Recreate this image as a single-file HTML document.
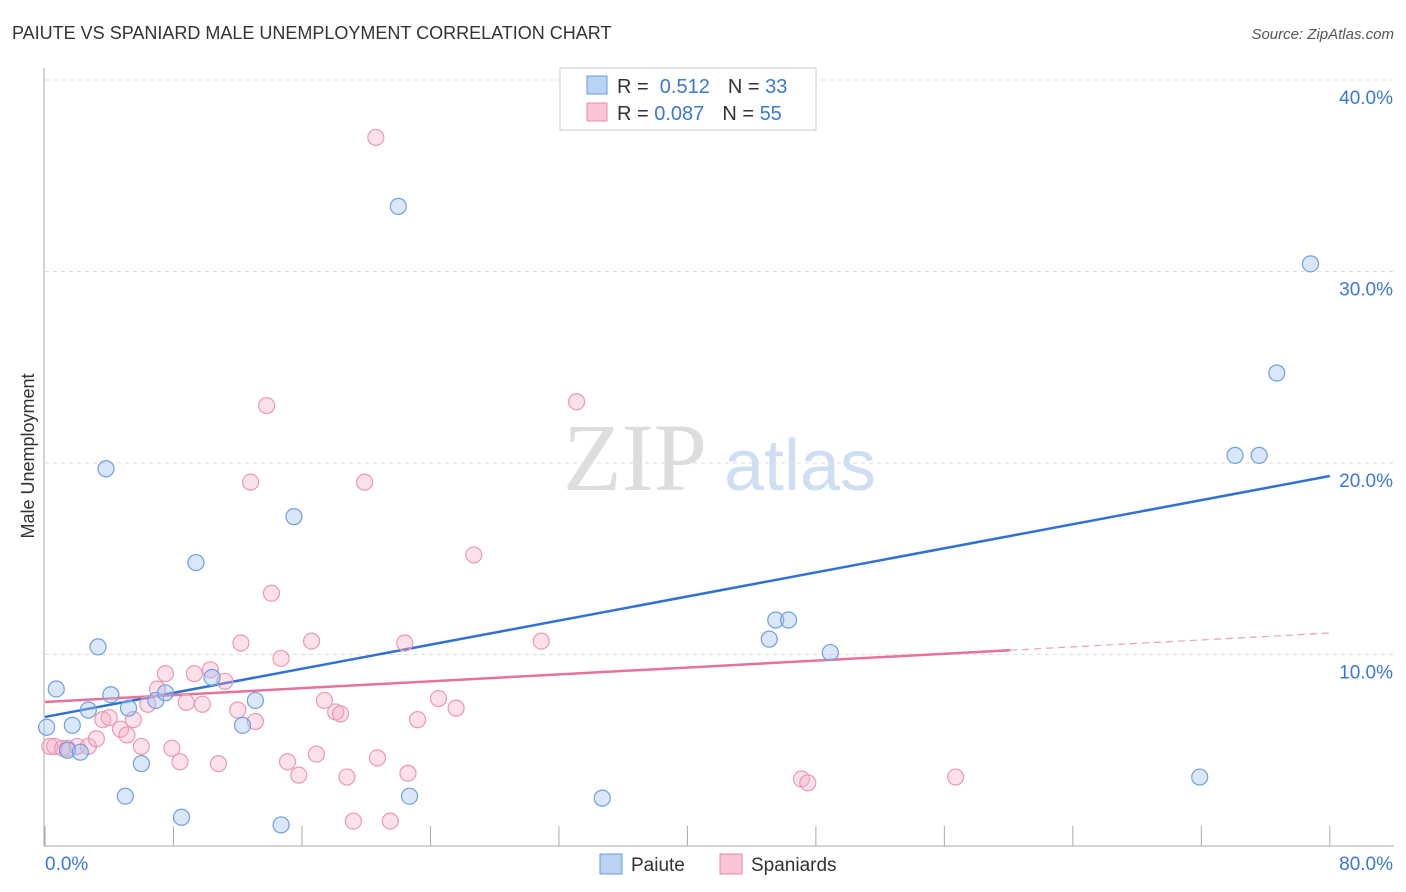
<!DOCTYPE html>
<html><head><meta charset="utf-8"><style>
body{margin:0;background:#fff;font-family:"Liberation Sans",sans-serif;}
svg{display:block}
</style></head><body>
<svg id="c" width="1406" height="892" xmlns="http://www.w3.org/2000/svg">
<text x="12" y="39" font-size="18" fill="#333">PAIUTE VS SPANIARD MALE UNEMPLOYMENT CORRELATION CHART</text>
<text x="1394" y="39" font-size="15" fill="#555" text-anchor="end" font-style="italic">Source: ZipAtlas.com</text>
<text x="34" y="456" font-size="18" fill="#333" text-anchor="middle" transform="rotate(-90 34 456)">Male Unemployment</text>
<g><text x="635" y="490" font-size="96" font-family="Liberation Serif,serif" fill="#ddd" text-anchor="middle">ZIP</text><text x="800" y="490" font-size="72" fill="#cfdff3" text-anchor="middle">atlas</text></g>
<g id="grid"></g><g id="lines"></g><g id="pts"></g>
<g>
<rect x="560" y="68" width="256" height="62" fill="#fff" stroke="#ccc"/>
<rect x="587" y="76" width="20" height="18" fill="#b9d3f5" stroke="#6a9be0"/>
<rect x="587" y="103" width="20" height="18" fill="#f9c5d6" stroke="#e88aaa"/>
<text x="617" y="93" font-size="20" fill="#333">R = <tspan fill="#3b78d8">&#160;0.512</tspan><tspan dx="18">N = </tspan><tspan fill="#3b78d8">33</tspan></text>
<text x="617" y="120" font-size="20" fill="#333">R = <tspan fill="#3b78d8">0.087</tspan><tspan dx="18">N = </tspan><tspan fill="#3b78d8">55</tspan></text>
</g>
<g>
<rect x="600" y="854" width="22" height="20" fill="#b9d3f5" stroke="#6a9be0"/>
<text x="631" y="871" font-size="19" fill="#333">Paiute</text>
<rect x="720" y="854" width="22" height="20" fill="#f9c5d6" stroke="#e88aaa"/>
<text x="751" y="871" font-size="19" fill="#333">Spaniards</text>
</g>
</svg>
<script>
const yTicks=[10,20,30,40];
const xTickLabels=["0.0%","80.0%"];
const blueX=[0.1,0.7,1.4,1.7,2.2,2.7,3.3,3.8,4.1,5.0,5.2,6.0,6.9,7.5,8.5,9.4,10.4,12.3,13.1,14.7,15.5,22.0,22.7,34.7,45.1,45.5,46.3,48.9,71.9,74.1,75.6,76.7,78.8];
const blueY=[6.2,8.2,5.0,6.3,4.9,7.1,10.4,19.7,7.9,2.6,7.2,4.3,7.6,8.0,1.5,14.8,8.8,6.3,7.6,1.1,17.2,33.4,2.6,2.5,10.8,11.8,11.8,10.1,3.6,20.4,20.4,24.7,30.4];
const pinkX=[0.3,0.6,1.1,1.4,2.0,2.7,3.2,3.6,4.0,4.7,5.1,5.5,6.0,6.4,7.0,7.5,7.9,8.4,8.8,9.3,9.8,10.3,10.8,11.2,12.0,12.2,13.1,13.8,12.8,14.1,14.7,15.1,15.8,16.6,16.9,17.4,18.1,18.4,18.8,19.2,19.9,20.6,20.7,21.5,22.4,22.6,23.2,24.5,25.6,26.7,30.9,33.1,47.1,47.5,56.7];
const pinkY=[5.2,5.2,5.1,5.1,5.2,5.2,5.6,6.6,6.7,6.1,5.8,6.6,5.2,7.4,8.2,9.0,5.1,4.4,7.5,9.0,7.4,9.2,4.3,8.6,7.1,10.6,6.5,23.0,19.0,13.2,9.8,4.4,3.7,10.7,4.8,7.6,7.0,6.9,3.6,1.3,19.0,37.0,4.6,1.3,10.6,3.8,6.6,7.7,7.2,15.2,10.7,23.2,3.5,3.3,3.6];
const blueTrend=[6.74,19.32]; // y at x=0 and x=80
const pinkTrend=[7.52,11.12];
const pinkSolidEnd=60.1;
const NS="http://www.w3.org/2000/svg";
const X=v=>45+v*16.06, Y=v=>846-v*19.15;
function mk(t,a,p){const e=document.createElementNS(NS,t);for(const k in a)e.setAttribute(k,a[k]);p.appendChild(e);return e;}
const g=document.getElementById('grid');
for(const t of yTicks){
 const l=mk('line',{x1:45,x2:1394,y1:Y(t),y2:Y(t),stroke:'#ddd','stroke-dasharray':'4,4'},g);
 
 
 const tx=mk('text',{x:1393,y:Y(t)+24,'font-size':19,fill:'#3b78d8','text-anchor':'end'},g);tx.textContent=t.toFixed(1)+'%';
 
 
}
mk('line',{x1:44,x2:44,y1:68,y2:846,stroke:'#aaa'},g);
mk('line',{x1:44,x2:1394,y1:846,y2:846,stroke:'#aaa'},g);
for(let i=0;i<=10;i++){const l=mk('line',{x1:X(i*8),x2:X(i*8),y1:826,y2:846,stroke:'#aaa'},g);
 
 }
const xl=mk('text',{x:45,y:870,'font-size':19,fill:'#3b78d8'},g);xl.textContent=xTickLabels[0];


const xr=mk('text',{x:1393,y:870,'font-size':19,fill:'#3b78d8','text-anchor':'end'},g);xr.textContent=xTickLabels[1];


const L=document.getElementById('lines');
const bl=mk('line',{x1:X(0),y1:Y(blueTrend[0]),x2:X(80),y2:Y(blueTrend[1]),stroke:'#2f72d6','stroke-width':2.5},L);


const py=x=>pinkTrend[0]+(pinkTrend[1]-pinkTrend[0])*x/80;
const pl=mk('line',{x1:X(0),y1:Y(py(0)),x2:X(pinkSolidEnd),y2:Y(py(pinkSolidEnd)),stroke:'#e8719a','stroke-width':2.5},L);


const pd=mk('line',{x1:X(pinkSolidEnd),y1:Y(py(pinkSolidEnd)),x2:X(80),y2:Y(py(80)),stroke:'#e8a0b8','stroke-width':1.2,'stroke-dasharray':'7,5'},L);


const P=document.getElementById('pts');
pinkX.forEach((x,i)=>{const c=mk('circle',{cx:X(x),cy:Y(pinkY[i]),r:8,fill:'rgba(246,170,196,0.35)',stroke:'#eb98b4','stroke-width':1.2},P);
 
 });
blueX.forEach((x,i)=>{const c=mk('circle',{cx:X(x),cy:Y(blueY[i]),r:8,fill:'rgba(160,196,240,0.4)',stroke:'#6f9fe0','stroke-width':1.2},P);
 
 });
</script>
</body></html>
